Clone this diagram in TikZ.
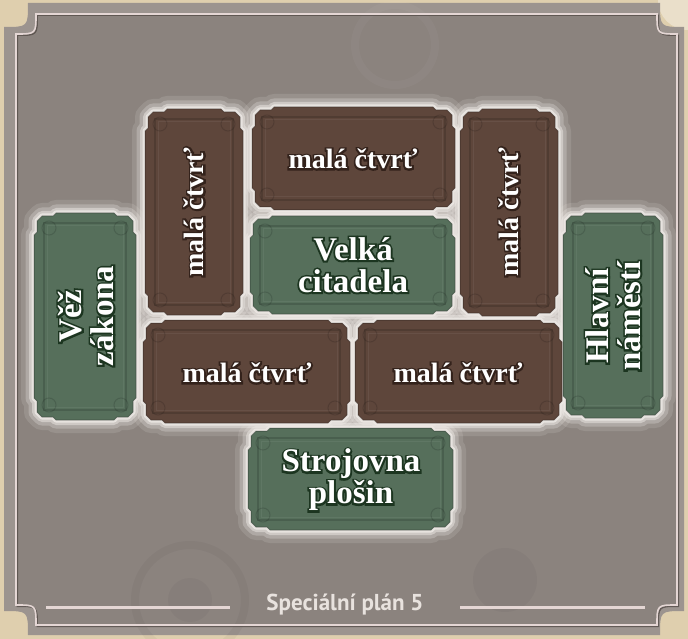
\documentclass[tikz,border=0pt]{standalone}
\usepackage{fontspec}
\setmainfont{Liberation Serif}
\newfontfamily\labfont{PT Sans}
\font\fsmall="Liberation Serif Bold" at 28pt
\font\fsmallo="Liberation Serif Bold:embolden=13" at 28pt
\font\fbig="Liberation Serif Bold" at 33pt
\font\fbigo="Liberation Serif Bold:embolden=11" at 33pt
\definecolor{beige}{HTML}{DFCFAE}
\definecolor{bandgray}{HTML}{9C948F}
\definecolor{panelgray}{HTML}{8B837E}
\definecolor{linelight}{HTML}{E4D6D4}
\definecolor{lineshadow}{HTML}{544C48}
\definecolor{glowc}{HTML}{EEEAE6}
\definecolor{brownt}{HTML}{5E463B}
\definecolor{greent}{HTML}{566F5B}
\definecolor{brownout}{HTML}{33221B}
\definecolor{greenout}{HTML}{1C3520}
\definecolor{captxt}{HTML}{E8E2DE}
\newcommand\tpath[4]{({#1+22},#2) -- ({#3-22},#2) -- ({#3-19},{#2+3}) -- ({#3-8},{#2+3}) -- ({#3-3},{#2+8}) -- ({#3-3},{#2+19}) -- (#3,{#2+22}) -- (#3,{#4-22}) -- ({#3-3},{#4-19}) -- ({#3-3},{#4-8}) -- ({#3-8},{#4-3}) -- ({#3-19},{#4-3}) -- ({#3-22},#4) -- ({#1+22},#4) -- ({#1+19},{#4-3}) -- ({#1+8},{#4-3}) -- ({#1+3},{#4-8}) -- ({#1+3},{#4-19}) -- (#1,{#4-22}) -- (#1,{#2+22}) -- ({#1+3},{#2+19}) -- ({#1+3},{#2+8}) -- ({#1+8},{#2+3}) -- ({#1+19},{#2+3}) -- cycle}
% name, x, y, rotation, outline colour, size (small/big), text
\newcommand\ttext[7]{%
  \node[tiletext, rotate=#4, text=#5, font={\csname f#6o\endcsname\baselineskip=32pt}] at (#2,#3) {#7};
  \node[tiletext, rotate=#4, text=white, font={\csname f#6\endcsname\baselineskip=32pt}] (#1) at (#2,#3) {#7};
}
\tikzset{
  tiletext/.style={align=center, inner sep=0pt},
}
\begin{document}
\begin{tikzpicture}[x=1pt,y=-1pt]
\useasboundingbox (0,0) rectangle (688,639);
% outside
\fill[beige] (0,0) rectangle (688,639);
\fill[white, opacity=.35] (688,0) circle (30);
% panel
\fill[bandgray] (28,3) -- (660,3) .. controls (660,27) .. (684,27) -- (684,611) .. controls (660,611) .. (660,635) -- (28,635) .. controls (28,611) .. (4,611) -- (4,27) .. controls (28,27) .. (28,3) -- cycle;
\fill[panelgray] (36,14) -- (657,14) .. controls (657,34) .. (677,34) -- (677,605) .. controls (657,605) .. (657,625) -- (36,625) .. controls (36,605) .. (16,605) -- (16,34) .. controls (36,34) .. (36,14) -- cycle;
% faint gears in texture
\draw[black, opacity=.035, line width=8] (190,600) circle (55);
\fill[black, opacity=.03] (190,600) circle (22);
\fill[black, opacity=.03] (505,580) circle (32);
\draw[white, opacity=.03, line width=8] (395,45) circle (40);
% inner border line
\draw[lineshadow, line width=1.4, opacity=.8, shift={(1.3,1.3)}] (36,14) -- (657,14) .. controls (657,34) .. (677,34) -- (677,605) .. controls (657,605) .. (657,625) -- (36,625) .. controls (36,605) .. (16,605) -- (16,34) .. controls (36,34) .. (36,14) -- cycle;
\draw[linelight, line width=1.6] (36,14) -- (657,14) .. controls (657,34) .. (677,34) -- (677,605) .. controls (657,605) .. (657,625) -- (36,625) .. controls (36,605) .. (16,605) -- (16,34) .. controls (36,34) .. (36,14) -- cycle;
% bottom caption with rules
\coordinate (r1a) at (46,607); \coordinate (r1b) at (230,607);
\coordinate (r2a) at (460,607); \coordinate (r2b) at (645,607);
\draw[lineshadow, line width=3, shift={(1,1.5)}] (r1a) -- (r1b);
\draw[lineshadow, line width=3, shift={(1,1.5)}] (r2a) -- (r2b);
\draw[linelight, line width=3] (r1a) -- (r1b);
\draw[linelight, line width=3] (r2a) -- (r2b);
\node[text=captxt, font=\labfont\bfseries\fontsize{23}{26}\selectfont, inner sep=0pt] (caption) at (345,605) {Speciální plán 5};
% tiles: glow
\def\tiles{145/109/243/315/brownt, 252/107/455/210/brownt, 460/109/558/316/brownt, 250/216/455/314/greent, 34/213/136/420/greent, 143/320/350/423/brownt, 355/320/562/423/brownt, 563/213/663/418/greent, 248/428/453/530/greent}
\foreach \xa/\ya/\xb/\yb/\col in \tiles {
  \draw[glowc, line width=26, opacity=.14, line join=round] \tpath{\xa}{\ya}{\xb}{\yb};
}
\foreach \xa/\ya/\xb/\yb/\col in \tiles {
  \draw[glowc, line width=17, opacity=.28, line join=round] \tpath{\xa}{\ya}{\xb}{\yb};
}
\foreach \xa/\ya/\xb/\yb/\col in \tiles {
  \draw[glowc, line width=10, opacity=.5, line join=round] \tpath{\xa}{\ya}{\xb}{\yb};
}
\foreach \xa/\ya/\xb/\yb/\col in \tiles {
  \draw[glowc, line width=5, opacity=.8, line join=round] \tpath{\xa}{\ya}{\xb}{\yb};
}
% tiles: bodies
\foreach \xa/\ya/\xb/\yb/\col in \tiles {
  \fill[\col] \tpath{\xa}{\ya}{\xb}{\yb};
  \draw[black, opacity=.25, line width=1] \tpath{\xa}{\ya}{\xb}{\yb};
  \draw[black, opacity=.14, line width=1.2] ({\xa+10},{\ya+10}) rectangle ({\xb-10},{\yb-10});
  \draw[white, opacity=.06, line width=1] ({\xa+13},{\ya+13}) rectangle ({\xb-13},{\yb-13});
  \draw[black, opacity=.13, line width=1] ({\xa+15},{\ya+15}) circle (7);
  \draw[black, opacity=.13, line width=1] ({\xb-15},{\yb-15}) circle (7);
  \draw[black, opacity=.13, line width=1] ({\xb-15},{\ya+15}) circle (7);
  \draw[black, opacity=.13, line width=1] ({\xa+15},{\yb-15}) circle (7);
}
% labels
\ttext{tL}{194}{212}{90}{brownout}{small}{malá čtvrť}
\ttext{tT}{353}{159}{0}{brownout}{small}{malá čtvrť}
\ttext{tR}{509}{212}{90}{brownout}{small}{malá čtvrť}
\ttext{tC}{353}{265}{0}{greenout}{big}{Velká\\citadela}
\ttext{tGL}{86}{316}{90}{greenout}{big}{Věž\\zákona}
\ttext{tBL}{247}{373}{0}{brownout}{small}{malá čtvrť}
\ttext{tBR}{458}{373}{0}{brownout}{small}{malá čtvrť}
\ttext{tGR}{613}{316}{90}{greenout}{big}{Hlavní\\náměstí}
\ttext{tGB}{351}{480}{0}{greenout}{big}{Strojovna\\plošin}
\end{tikzpicture}
\end{document}
